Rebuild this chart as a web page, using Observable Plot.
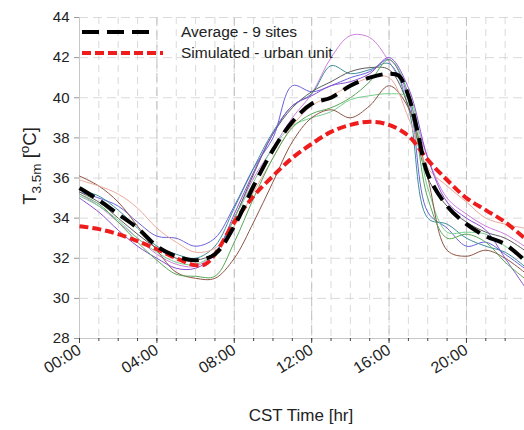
<!DOCTYPE html>
<html><head><meta charset="utf-8">
<script src="https://cdn.jsdelivr.net/npm/d3@7"></script>
<script src="https://cdn.jsdelivr.net/npm/@observablehq/plot@0.6"></script>
<style>
body{margin:0;background:#fff;font-family:"Liberation Sans",Arial,sans-serif}
#chart svg{overflow:visible}
</style>
</head><body><div id="chart"></div><script>
// ---- data ----
const hours = d3.range(0, 24);
const siteA = [35.2,34.6,33.8,33.0,32.2,31.7,31.6,32.3,34.0,36.0,37.5,39.0,40.2,42.0,43.1,43.0,41.8,40.0,37.0,35.0,34.2,33.6,33.2,32.6];
const siteB = [35.3,35.0,34.6,33.8,33.1,33.0,32.6,33.0,34.6,36.5,38.0,40.6,40.3,40.6,41.0,41.3,41.9,40.0,34.3,33.5,32.6,32.8,32.2,31.5];
const siteC = [35.4,35.1,34.4,33.5,32.6,32.2,32.0,32.6,34.5,36.5,38.3,39.6,40.2,41.6,41.2,41.4,41.7,39.5,34.0,33.7,33.0,32.6,32.3,31.6];
const siteD = [35.3,34.8,34.0,33.2,32.5,32.0,31.9,32.3,34.0,36.2,38.2,39.5,40.3,40.8,41.3,41.5,41.4,39.6,36.0,34.6,33.8,33.3,33.0,32.4];
const siteE = [35.1,34.6,33.9,33.0,32.3,31.8,31.7,32.3,34.0,35.8,37.5,38.6,39.0,39.3,39.9,40.1,40.2,40.0,35.5,33.3,33.3,33.2,32.6,32.0];
const siteF = [36.1,35.6,34.8,33.6,32.4,31.3,31.0,31.0,32.0,33.8,35.8,37.8,39.0,39.4,39.0,39.6,40.6,39.5,36.0,32.4,32.1,32.4,32.0,31.3];
const siteG = [35.9,35.6,35.2,34.5,33.5,32.8,32.3,32.5,33.6,35.3,37.0,38.6,39.6,40.1,40.6,41.0,41.0,39.0,36.5,35.6,34.8,34.0,33.7,33.5];
const siteH = [35.0,34.3,33.4,32.6,32.0,31.5,31.5,32.2,34.2,36.3,38.2,39.6,40.1,40.6,40.8,41.2,42.0,40.5,37.0,34.8,34.0,33.4,32.0,30.6];
const siteI = [35.2,34.7,33.8,32.8,31.9,31.2,31.1,31.1,32.8,35.0,37.0,38.5,39.2,39.5,40.0,40.8,41.9,40.2,35.0,33.0,33.2,32.8,31.8,31.0];
const siteSeries = [siteA, siteB, siteC, siteD, siteE, siteF, siteG, siteH, siteI];
const siteColors = ["#d07ee0","#6a62dc","#3f8f9c","#5c5c5c","#72d08e","#8e5446","#e9aa9c","#8a4fd0","#5aa85a"];

const avgHours = [0,1,2,3,4,5,6,7,8,9,10,11,12,13,14,15,16,16.5,17,17.5,18,19,20,21,22,23];
const avgTemp  = [35.5,34.9,34.2,33.5,32.6,32.1,31.9,32.2,33.6,35.6,37.4,38.8,39.7,40.0,40.6,41.0,41.2,41.1,40.1,38.2,36.2,34.6,33.7,33.1,32.7,31.9];
const simHours = [0,1,2,3,4,5,6,6.5,7,8,9,10,11,12,13,14,15,16,17,18,19,20,21,22,23];
const simTemp  = [33.6,33.45,33.2,32.85,32.45,32.0,31.65,31.7,32.2,33.8,35.1,36.1,37.0,37.7,38.3,38.65,38.8,38.65,38.1,36.9,35.9,35.0,34.4,33.8,33.0];

const yTicks = d3.range(28, 45, 2);
const xMajor = d3.range(0, 24, 4);
const legendLabels = ["Average - 9 sites", "Simulated - urban unit"];

// ---- tables ----
const siteRows = siteSeries.flatMap((vals, i) => vals.map((v, j) => ({site: i, h: hours[j], t: v})));
const avgRows = avgHours.map((h, i) => ({h, t: avgTemp[i]}));
const simRows = simHours.map((h, i) => ({h, t: simTemp[i]}));
const fmt = h => String(h).padStart(2, "0") + ":00";

const plot = Plot.plot({
  width: 524, height: 430,
  marginLeft: 79, marginRight: 0, marginTop: 17, marginBottom: 92,
  style: {fontFamily: "Liberation Sans, Arial, sans-serif", color: "#222", background: "#fff"},
  x: {domain: [0, 23]},
  y: {domain: [28, 44]},
  marks: [
    Plot.gridX(hours, {stroke: "#d0d0d0", strokeOpacity: 1, strokeDasharray: "7,5", strokeWidth: 0.8}),
    Plot.gridX(xMajor, {stroke: "#c0c0c0", strokeOpacity: 1, strokeDasharray: "9,5", strokeWidth: 1}),
    Plot.gridY(yTicks, {stroke: "#d0d0d0", strokeOpacity: 1, strokeDasharray: "9,5", strokeWidth: 0.8}),
    Plot.ruleY([28], {stroke: "#c8c8c8"}),
    Plot.ruleX([0], {stroke: "#c8c8c8"}),
    Plot.axisX(hours, {tickSize: 3, stroke: "#444", text: null, label: null}),
    Plot.axisX(xMajor, {tickSize: 5, stroke: "#444", tickFormat: fmt, tickRotate: -32, fontSize: 16, tickPadding: 5, label: null}),
    Plot.axisY(yTicks, {tickSize: 5, stroke: "#999", fontSize: 15, tickPadding: 5, label: null}),
    Plot.line(siteRows, {x: "h", y: "t", z: "site", stroke: d => siteColors[d.site], strokeWidth: 1, curve: "catmull-rom"}),
    Plot.line(simRows, {x: "h", y: "t", stroke: "#ee1c1c", strokeWidth: 4, strokeDasharray: "9,4", curve: "catmull-rom", strokeLinecap: "butt"}),
    Plot.line(avgRows, {x: "h", y: "t", stroke: "#000", strokeWidth: 4, strokeDasharray: "17,8", curve: "catmull-rom", strokeLinecap: "butt"})
  ]
});

const svg = d3.select(plot);
// x label
svg.append("text").attr("x", 301).attr("y", 421).attr("text-anchor", "middle")
  .attr("font-size", 17).attr("fill", "#222").text("CST Time [hr]");
// y label
const yl = svg.append("text").attr("transform", "translate(36,166) rotate(-90)")
  .attr("text-anchor", "middle").attr("font-size", 18.5).attr("fill", "#222");
yl.append("tspan").text("T");
yl.append("tspan").attr("font-size", 13.5).attr("dy", 5).text("3.5m");
yl.append("tspan").attr("dy", -5).text(" [");
yl.append("tspan").attr("font-size", 13.5).attr("dy", -7).text("o");
yl.append("tspan").attr("dy", 7).text("C]");
// legend
const lg = svg.append("g");
const legendStyles = [{stroke: "#000", dash: "17,8", len: 70}, {stroke: "#ee1c1c", dash: "9,4", len: 81}];
legendLabels.forEach((lab, i) => {
  const y = 32 + i * 21;
  lg.append("line").attr("x1", 82).attr("x2", 82 + legendStyles[i].len).attr("y1", y).attr("y2", y)
    .attr("stroke", legendStyles[i].stroke).attr("stroke-width", 4).attr("stroke-dasharray", legendStyles[i].dash);
  lg.append("text").attr("x", 181).attr("y", y).attr("dy", "0.35em").attr("text-anchor", "start")
    .attr("font-size", 15.5).attr("fill", "#222").text(lab);
});
document.getElementById("chart").appendChild(plot);
</script></body></html>
